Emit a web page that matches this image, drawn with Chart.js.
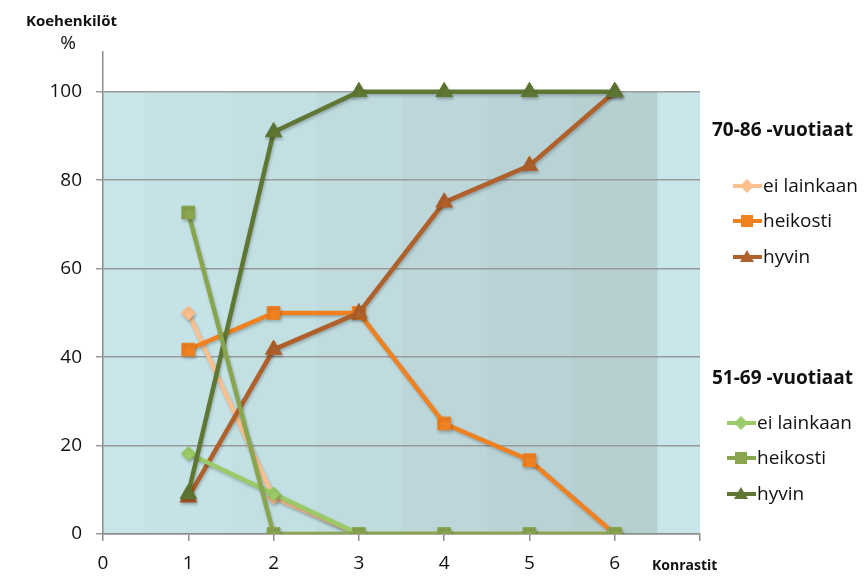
<!DOCTYPE html>
<html lang="fi">
<head>
<meta charset="utf-8">
<title>Konrastit</title>
<script src="https://cdn.jsdelivr.net/npm/chart.js@4.4.1/dist/chart.umd.min.js"></script>
<style>
    html, body { margin: 0; padding: 0; background: #fff; }
    #wrap { position: relative; width: 868px; height: 578px; font-family: "Open Sans", sans-serif; color: #111; }
    #wrap canvas { position: absolute; left: 0; top: 0; }
    .txt { position: absolute; white-space: nowrap; line-height: 30px; height: 30px; }
    .bold { font-weight: 700; }
    .item { position: absolute; height: 30px; line-height: 30px; font-size: 19px; white-space: nowrap; }
    .item svg { vertical-align: middle; margin-right: 1px; position: relative; top: -1px; }
</style>
</head>
<body>
<div id="wrap">
    <canvas id="chart" width="868" height="578"></canvas>
    <div class="txt bold" style="left:26px; top:5px; font-size:15px; width:84px; text-align:center;">Koehenkilöt</div>
    <div class="txt" style="left:26px; top:27px; font-size:19px; width:84px; text-align:center;">%</div>
    <div class="txt bold" style="left:652px; top:550px; font-size:14px;">Konrastit</div>
    <div id="legend"></div>
</div>
<script>
// arvot luettu kuvaajasta, % koehenkilöistä
const konrastit = [1, 2, 3, 4, 5, 6];
const xTicks = [0, 1, 2, 3, 4, 5, 6];
const yTicks = [0, 20, 40, 60, 80, 100];

const ryhmat = ["70-86 -vuotiaat", "51-69 -vuotiaat"];
const vastaukset = ["ei lainkaan", "heikosti", "hyvin"];

// 70-86 -vuotiaat
const vanhat_eiLainkaan = [50, 8.3, 0, 0, 0, 0];
const vanhat_heikosti = [41.7, 50, 50, 25, 16.7, 0];
const vanhat_hyvin = [8.3, 41.7, 50, 75, 83.3, 100];

// 51-69 -vuotiaat
const nuoret_eiLainkaan = [18.2, 9.1, 0, 0, 0, 0];
const nuoret_heikosti = [72.7, 0, 0, 0, 0, 0];
const nuoret_hyvin = [9.1, 90.9, 100, 100, 100, 100];

// taustan raidat, yksi jokaiselle konrastille
const taustaVari = "#c8e5e9";
const raitaVarit = ["#c5e3e6", "#c2dfe2", "#c0dbde", "#bcd6d9", "#b9d2d5", "#b6cfd1"];

const tyylit = [
    { color: "#fac08f", point: "rectRot", radius: 7 },
    { color: "#f08121", point: "rect", radius: 9 },
    { color: "#b0602a", point: "triangle", radius: 9.5 },
    { color: "#9bcb68", point: "rectRot", radius: 7 },
    { color: "#89a54e", point: "rect", radius: 9 },
    { color: "#5f7733", point: "triangle", radius: 9.5 },
];

const toPoints = (arr) => arr.map((v, i) => ({ x: konrastit[i], y: v }));

function sarja(label, data, tyyli, order) {
    return {
        label: label,
        data: toPoints(data),
        borderColor: tyyli.color,
        backgroundColor: tyyli.color,
        pointBackgroundColor: tyyli.color,
        pointBorderColor: tyyli.color,
        pointBorderWidth: 1,
        pointStyle: tyyli.point,
        pointRadius: tyyli.radius,
        pointHoverRadius: tyyli.radius,
        borderWidth: 4.5,
        tension: 0,
        order: order,
    };
}

const datasets = [
    sarja(vastaukset[0], vanhat_eiLainkaan, tyylit[0], 5),
    sarja(vastaukset[1], vanhat_heikosti, tyylit[1], 4),
    sarja(vastaukset[2], vanhat_hyvin, tyylit[2], 3),
    sarja(vastaukset[0], nuoret_eiLainkaan, tyylit[3], 2),
    sarja(vastaukset[1], nuoret_heikosti, tyylit[4], 0),
    sarja(vastaukset[2], nuoret_hyvin, tyylit[5], 1),
];

// taustan raidat piirretään ennen ruudukkoa
const raidat = {
    id: "raidat",
    beforeDraw(chart) {
        const { ctx, scales: { x, y } } = chart;
        const top = y.getPixelForValue(100);
        const bottom = y.getPixelForValue(0);
        ctx.save();
        ctx.fillStyle = taustaVari;
        ctx.fillRect(x.getPixelForValue(x.min), top, x.getPixelForValue(x.max) - x.getPixelForValue(x.min), bottom - top);
        konrastit.forEach((k, i) => {
            const l = x.getPixelForValue(k - 0.5);
            const r = x.getPixelForValue(k + 0.5);
            ctx.fillStyle = raitaVarit[i];
            ctx.fillRect(l, top, r - l, bottom - top);
        });
        ctx.restore();
    },
};

// pieni varjo viivoille ja merkeille
const varjo = {
    id: "varjo",
    beforeDatasetDraw(chart) {
        const ctx = chart.ctx;
        ctx.save();
        ctx.shadowColor = "rgba(0, 0, 0, 0.22)";
        ctx.shadowBlur = 3;
        ctx.shadowOffsetX = 1;
        ctx.shadowOffsetY = 2;
    },
    afterDatasetDraw(chart) {
        chart.ctx.restore();
    },
};

const tickFont = { family: "'Open Sans', sans-serif", size: 19 };

new Chart(document.getElementById("chart"), {
    type: "line",
    data: { datasets: datasets },
    options: {
        responsive: false,
        animation: false,
        layout: { padding: { left: 0, top: 52, right: 168, bottom: 0 } },
        plugins: { legend: { display: false }, tooltip: { enabled: false } },
        scales: {
            x: {
                type: "linear",
                min: 0,
                max: 7,
                afterBuildTicks: (scale) => {
                    scale.ticks = xTicks.concat([7]).map((v) => ({ value: v }));
                },
                afterFit: (scale) => { scale.height = 44; },
                ticks: {
                    font: tickFont,
                    color: "#111",
                    padding: 11,
                    maxRotation: 0,
                    callback: (v) => (xTicks.includes(v) ? String(v) : ""),
                },
                grid: { drawOnChartArea: false, drawTicks: true, tickLength: 7, color: "#8c8c8c", lineWidth: 1.5 },
                border: { color: "#8c8c8c", width: 1.5 },
            },
            y: {
                min: 0,
                max: 109,
                afterBuildTicks: (scale) => {
                    scale.ticks = yTicks.map((v) => ({ value: v }));
                },
                afterFit: (scale) => { scale.width = 103; },
                ticks: { font: tickFont, color: "#111", padding: 14 },
                grid: { color: "#9a9a9a", lineWidth: 1.5, tickLength: 7 },
                border: { color: "#8c8c8c", width: 1.5 },
            },
        },
    },
    plugins: [raidat, varjo],
});

// selite kahdessa ryhmässä
function ikoni(tyyli) {
    const c = tyyli.color;
    let merkki = "";
    if (tyyli.point === "rect") {
        merkki = `<rect x="8" y="4" width="12" height="12" fill="${c}"/>`;
    } else if (tyyli.point === "triangle") {
        merkki = `<polygon points="14,3 21,15 7,15" fill="${c}"/>`;
    } else {
        merkki = `<polygon points="14,3 21,10 14,17 7,10" fill="${c}"/>`;
    }
    return `<svg width="29" height="20" viewBox="0 0 29 20"><line x1="0" y1="10" x2="29" y2="10" stroke="${c}" stroke-width="4"/>${merkki}</svg>`;
}

const legendPaikat = [
    { title: 129, iconLeft: 733, rows: [185, 220, 256], styles: tyylit.slice(0, 3) },
    { title: 377, iconLeft: 727, rows: [422, 457, 493], styles: tyylit.slice(3, 6) },
];

const legend = document.getElementById("legend");
legendPaikat.forEach((g, gi) => {
    const t = document.createElement("div");
    t.className = "txt bold";
    t.style.cssText = `left:712px; top:${g.title - 15}px; font-size:19px;`;
    t.textContent = ryhmat[gi];
    legend.appendChild(t);
    g.rows.forEach((cy, i) => {
        const row = document.createElement("div");
        row.className = "item";
        row.style.cssText = `left:${g.iconLeft}px; top:${cy - 15}px;`;
        row.innerHTML = ikoni(g.styles[i]) + vastaukset[i];
        legend.appendChild(row);
    });
});
</script>
</body>
</html>
